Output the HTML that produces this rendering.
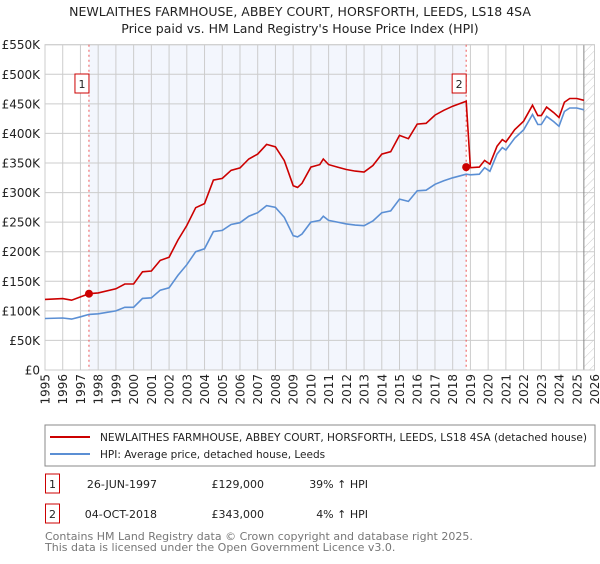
<!DOCTYPE html>
<html><head><meta charset="utf-8"><style>
body{margin:0;background:#fff;width:600px;height:560px;overflow:hidden;font-family:"DejaVu Sans","Liberation Sans",sans-serif;}
svg text{font-family:"DejaVu Sans","Liberation Sans",sans-serif;}
</style></head><body>
<svg id="chart" width="600" height="560" xmlns="http://www.w3.org/2000/svg">
<defs><pattern id="hatch" width="6" height="6" patternUnits="userSpaceOnUse" patternTransform="rotate(45)"><line x1="0" y1="0" x2="0" y2="6" stroke="#ccc" stroke-width="1"/></pattern></defs>
<text x="300" y="16" text-anchor="middle" font-size="12.5" fill="#222">NEWLAITHES FARMHOUSE, ABBEY COURT, HORSFORTH, LEEDS, LS18 4SA</text>
<text x="300" y="33" text-anchor="middle" font-size="12.5" fill="#222">Price paid vs. HM Land Registry's House Price Index (HPI)</text>
<g id="plot"></g>
<rect x="45" y="425" width="550" height="41" fill="#fff" stroke="#888"/>
<line x1="50" y1="437" x2="90" y2="437" stroke="#cc0000" stroke-width="2"/>
<text x="100" y="441" font-size="10.5" fill="#222" textLength="487" lengthAdjust="spacingAndGlyphs">NEWLAITHES FARMHOUSE, ABBEY COURT, HORSFORTH, LEEDS, LS18 4SA (detached house)</text>
<line x1="50" y1="454" x2="90" y2="454" stroke="#5b8fd4" stroke-width="2"/>
<text x="100" y="458" font-size="10.5" fill="#222">HPI: Average price, detached house, Leeds</text>
<g>
<rect x="45.5" y="474" width="14" height="19" fill="#fff" stroke="#cc0000"/>
<text x="52.5" y="488" text-anchor="middle" font-size="11" fill="#222">1</text>
<text x="157" y="488" text-anchor="end" font-size="11" fill="#222">26-JUN-1997</text>
<text x="264" y="488" text-anchor="end" font-size="11" fill="#222">£129,000</text>
<text x="368" y="488" text-anchor="end" font-size="11" fill="#222">39% ↑ HPI</text>
</g>
<g>
<rect x="45.5" y="504" width="14" height="19" fill="#fff" stroke="#cc0000"/>
<text x="52.5" y="518" text-anchor="middle" font-size="11" fill="#222">2</text>
<text x="157" y="518" text-anchor="end" font-size="11" fill="#222">04-OCT-2018</text>
<text x="264" y="518" text-anchor="end" font-size="11" fill="#222">£343,000</text>
<text x="368" y="518" text-anchor="end" font-size="11" fill="#222">4% ↑ HPI</text>
</g>
<text x="45" y="540" font-size="11" fill="#777">Contains HM Land Registry data © Crown copyright and database right 2025.</text>
<text x="45" y="551" font-size="11" fill="#777">This data is licensed under the Open Government Licence v3.0.</text>
</svg>
<script>
const hpiYears=[1995,1996,1996.5,1997,1997.48,1998,1999,1999.5,2000,2000.5,2001,2001.5,2002,2002.5,2003,2003.5,2004,2004.5,2005,2005.5,2006,2006.5,2007,2007.5,2008,2008.5,2009,2009.25,2009.5,2010,2010.5,2010.7,2011,2011.5,2012,2012.5,2013,2013.5,2014,2014.5,2015,2015.5,2016,2016.5,2017,2017.5,2018,2018.76,2019,2019.5,2019.8,2020.1,2020.5,2020.8,2021,2021.5,2022,2022.5,2022.8,2023,2023.3,2023.7,2024,2024.3,2024.6,2025,2025.4];
const hpiValues=[87,88,86,90,94,95,100,106,106,121,122,135,139,160,178,200,205,234,236,246,249,260,266,278,275,258,227,225,230,250,253,260,253,250,247,245,244,252,266,269,289,285,303,304,314,320,325,331,330,331,342,336,365,376,372,392,406,432,415,415,429,420,412,437,443,443,440];
const saleYears=[1997.48,2018.76];
const salePrices=[129,343];
const yTicks=[0,50,100,150,200,250,300,350,400,450,500,550];
const yTickLabels=["£0","£50K","£100K","£150K","£200K","£250K","£300K","£350K","£400K","£450K","£500K","£550K"];
const xTicks=[1995,1996,1997,1998,1999,2000,2001,2002,2003,2004,2005,2006,2007,2008,2009,2010,2011,2012,2013,2014,2015,2016,2017,2018,2019,2020,2021,2022,2023,2024,2025,2026];
const dataEnd=2025.4;

const X0=45,X1=594.5,Y0=370,Y1=44.7;
const xs=y=>X0+(y-1995)/(2026-1995)*(X1-X0);
const ys=v=>Y0-(v/550)*(Y0-Y1);
const NS="http://www.w3.org/2000/svg";
const plot=document.getElementById('plot');
function mk(tag,attrs,parent){const e=document.createElementNS(NS,tag);for(const k in attrs)e.setAttribute(k,attrs[k]);(parent||plot).appendChild(e);return e;}
function hpiAt(t){for(let i=0;i<hpiYears.length-1;i++){if(t>=hpiYears[i]&&t<=hpiYears[i+1]){const f=(t-hpiYears[i])/(hpiYears[i+1]-hpiYears[i]);return hpiValues[i]+f*(hpiValues[i+1]-hpiValues[i]);}}return hpiValues[hpiValues.length-1];}

const shade=mk('rect',{x:xs(saleYears[0]),y:Y1,width:xs(saleYears[1])-xs(saleYears[0]),height:Y0-Y1,fill:'#f3f6fd'});


const hatch=mk('rect',{x:xs(dataEnd),y:Y1,width:X1-xs(dataEnd),height:Y0-Y1,fill:'url(#hatch)'});


xTicks.forEach(t=>{
 const l=mk('line',{x1:xs(t),x2:xs(t),y1:Y1,y2:Y0,stroke:'#ccc','stroke-width':1});
 
 
 const tx=mk('text',{x:0,y:0,'font-size':12,fill:'#222','text-anchor':'end',transform:`translate(${xs(t)+4.5},374) rotate(-90)`});
 tx.textContent=t;
 
 
});
yTicks.forEach((v,i)=>{
 const l=mk('line',{x1:X0,x2:X1,y1:ys(v),y2:ys(v),stroke:'#ccc','stroke-width':1});
 
 
 const tx=mk('text',{x:40,y:ys(v)+4.5,'font-size':12,fill:'#222','text-anchor':'end'});
 tx.textContent=yTickLabels[i];
 
 
});
const endLine=mk('line',{x1:xs(dataEnd),x2:xs(dataEnd),y1:Y1,y2:Y0,stroke:'#888','stroke-width':1});


const frame=mk('rect',{x:X0,y:Y1,width:X1-X0,height:Y0-Y1,fill:'none',stroke:'#ccc'});



saleYears.forEach((s,i)=>{
 const l=mk('line',{x1:xs(s),x2:xs(s),y1:Y1,y2:Y0,stroke:'#ee5555','stroke-width':1,'stroke-dasharray':'2,3'});
 
 
});

let d='';hpiYears.forEach((t,i)=>{d+=(i?'L':'M')+xs(t).toFixed(1)+','+ys(hpiValues[i]).toFixed(1);});
const hl=mk('path',{d:d,fill:'none',stroke:'#5b8fd4','stroke-width':1.6});



const r1=salePrices[0]/hpiAt(saleYears[0]), r2=salePrices[1]/hpiAt(saleYears[1]);
let pd='';let first=true;
hpiYears.forEach((t,i)=>{
 const r=t<=saleYears[1]?r1:r2;
 if(t===saleYears[1]){pd+='L'+xs(t).toFixed(1)+','+ys(hpiValues[i]*r1).toFixed(1);}
 pd+=(first?'M':'L')+xs(t).toFixed(1)+','+ys(hpiValues[i]*r).toFixed(1);first=false;
});
const pl=mk('path',{d:pd,fill:'none',stroke:'#cc0000','stroke-width':1.6});



saleYears.forEach((s,i)=>{
 const c=mk('circle',{cx:xs(s),cy:ys(salePrices[i]),r:4,fill:'#cc0000'});
 
 
 const bx=xs(s);
 const g=mk('g',{});
 
 
 mk('rect',{x:bx-14,y:74,width:14,height:19,fill:'#fff',stroke:'#cc0000'},g);
 const t=mk('text',{x:bx-7,y:88,'font-size':11,fill:'#222','text-anchor':'middle'},g);
 t.textContent=String(i+1);
});
</script>
</body></html>
